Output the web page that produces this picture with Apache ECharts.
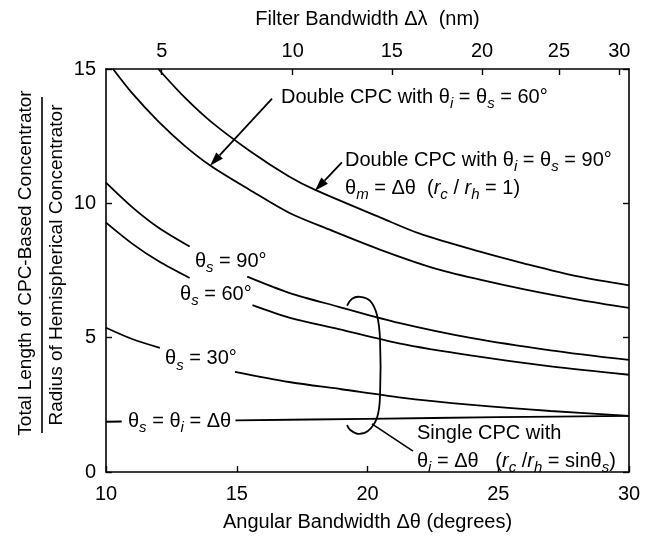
<!DOCTYPE html>
<html>
<head>
<meta charset="utf-8">
<script src="https://cdn.jsdelivr.net/npm/echarts@6/dist/echarts.min.js"></script>
<style>
  html, body { margin: 0; background: #fff; }
  #chart { width: 651px; height: 536px; }
</style>
</head>
<body>
<div id="chart"></div>
<script>
// curves: [angular bandwidth (deg), length ratio]
// a null value marks where the printed curve is broken for its label
const double90 = [[12.0, 15.0], [13, 13.95], [14, 13.05], [15.5, 11.95], [17, 11.0], [18, 10.5], [20.5, 9.47], [22, 8.87], [24.3, 8.2], [26, 7.76], [28.1, 7.27], [30, 6.95]];
const double60 = [[10.27, 15.0], [11, 14.1], [12, 13.05], [13, 12.15], [14, 11.4], [15.5, 10.5], [17, 9.65], [18.6, 9.0], [20.5, 8.27], [22.5, 7.6], [24.3, 7.16], [26, 6.8], [28.1, 6.41], [30, 6.11]];
const single90 = [[10, 10.77], [11, 9.86], [12, 9.1], [13.2, 8.39], [14.3, null], [15.4, 7.27], [17, 6.67], [18.9, 6.15], [21.2, 5.55], [24, 4.98], [27, 4.53], [30, 4.17]];
const single60 = [[10, 9.28], [11, 8.5], [12, 7.85], [13.2, 7.22], [14.4, null], [15.6, 6.21], [17, 5.75], [18.9, 5.32], [21.2, 4.79], [24, 4.33], [27, 3.93], [30, 3.62]];
const single30 = [[10, 5.37], [11, 4.95], [12.06, 4.62], [13.5, null], [14.93, 3.73], [17, 3.35], [19, 3.08], [21.2, 2.78], [24, 2.5], [27, 2.27], [30, 2.09]];
const singleEqual = [[10, 1.87], [10.6, 1.88], [12.8, null], [14.95, 1.92], [20, 1.98], [25, 2.04], [30, 2.09]];

// top axis: filter bandwidth ticks and where they sit on the angle scale
const topTickDeg = [12.13, 17.14, 20.93, 24.38, 27.32, 29.63];
const topTickNm = ['5', '10', '15', '20', '25', '30'];

const FONT = '"Liberation Sans", Arial, Helvetica, sans-serif';

const chartDom = document.getElementById('chart');
const myChart = echarts.init(chartDom);

const axisText = { color: '#000', fontSize: 20, fontFamily: FONT };
const frameLine = { show: true, onZero: false, lineStyle: { color: '#000', width: 1.6 } };
const tickStyle = { color: '#000', width: 1.4 };

const curve = (name, data) => ({
  name,
  type: 'line',
  data,
  smooth: 0.3,
  connectNulls: false,
  symbol: 'none',
  silent: true,
  lineStyle: { color: '#000', width: 1.8 },
  z: 2,
});

const option = {
  backgroundColor: '#fff',
  animation: false,
  grid: { left: 106, right: 22, top: 69, bottom: 64, containLabel: false, outerBoundsMode: 'none' },
  xAxis: [
    {
      type: 'value',
      position: 'bottom',
      min: 10,
      max: 30,
      interval: 5,
      axisLine: frameLine,
      axisTick: { show: true, inside: true, length: 6, lineStyle: tickStyle },
      axisLabel: { ...axisText, margin: 12 },
      splitLine: { show: false },
      name: 'Angular Bandwidth Δθ (degrees)',
      nameLocation: 'middle',
      nameGap: 40,
      nameTextStyle: axisText,
    },
    {
      type: 'value',
      position: 'top',
      min: 10,
      max: 30,
      axisLine: frameLine,
      axisTick: { show: true, inside: true, length: 6, lineStyle: tickStyle, customValues: topTickDeg },
      axisLabel: {
        ...axisText,
        margin: 8,
        customValues: topTickDeg,
        formatter: (v) => {
          let best = 0;
          topTickDeg.forEach((d, i) => { if (Math.abs(d - v) < Math.abs(topTickDeg[best] - v)) best = i; });
          return topTickNm[best];
        },
      },
      splitLine: { show: false },
      name: 'Filter Bandwidth Δλ  (nm)',
      nameLocation: 'middle',
      nameGap: 40,
      nameTextStyle: axisText,
    },
  ],
  yAxis: [
    {
      type: 'value',
      position: 'left',
      min: 0,
      max: 15,
      interval: 5,
      axisLine: frameLine,
      axisTick: { show: true, inside: true, length: 6, lineStyle: tickStyle },
      axisLabel: { ...axisText, margin: 10 },
      splitLine: { show: false },
    },
    {
      type: 'value',
      position: 'right',
      min: 0,
      max: 15,
      interval: 5,
      axisLine: frameLine,
      axisTick: { show: true, inside: true, length: 6, lineStyle: tickStyle },
      axisLabel: { show: false },
      splitLine: { show: false },
    },
  ],
  series: [
    curve('Double CPC 90', double90),
    curve('Double CPC 60', double60),
    curve('θs = 90', single90),
    curve('θs = 60', single60),
    curve('θs = 30', single30),
    curve('θs = θi', singleEqual),
  ],
};

myChart.setOption(option);

// annotations
const px = (x, y) => myChart.convertToPixel({ xAxisIndex: 0, yAxisIndex: 0 }, [x, y]);

const rich = {
  b: { fontSize: 20, fontFamily: FONT, lineHeight: 24, verticalAlign: 'top', fill: '#000' },
  it: { fontSize: 20, fontFamily: FONT, fontStyle: 'italic', lineHeight: 24, verticalAlign: 'top', fill: '#000' },
  sub: { fontSize: 15, fontFamily: FONT, fontStyle: 'italic', lineHeight: 15, verticalAlign: 'bottom', fill: '#000' },
};

function label(text, x, y) {
  const [lx, ly] = px(x, y);
  return {
    type: 'text',
    x: lx,
    y: ly - 11,
    z: 10,
    style: { text, rich, fontSize: 20, fontFamily: FONT, fill: '#000', align: 'left', verticalAlign: 'top' },
  };
}

function arrow(from, to) {
  const [x0, y0] = px(from[0], from[1]);
  const [x1, y1] = px(to[0], to[1]);
  const ang = Math.atan2(y1 - y0, x1 - x0);
  const len = 14;
  const half = 4.5;
  const bx = x1 - len * Math.cos(ang);
  const by = y1 - len * Math.sin(ang);
  const nx = -Math.sin(ang) * half;
  const ny = Math.cos(ang) * half;
  return [
    { type: 'line', z: 10, shape: { x1: x0, y1: y0, x2: bx, y2: by }, style: { stroke: '#000', lineWidth: 1.8 } },
    { type: 'polygon', z: 10, shape: { points: [[x1, y1], [bx + nx, by + ny], [bx - nx, by - ny]] }, style: { fill: '#000' } },
  ];
}

const bracket = [[19.22, 6.19], [19.41, 6.45], [19.71, 6.52], [20.1, 6.37], [20.36, 5.85], [20.48, 4.92],
  [20.48, 2.87], [20.36, 2.01], [20.02, 1.53], [19.64, 1.42], [19.33, 1.57], [19.22, 1.75]];
const [c0x, c0y] = px(20.17, 1.79);
const [c1x, c1y] = px(21.74, 0.78);

const graphic = [
  label('{b|Double CPC with θ}{sub|i}{b| = θ}{sub|s}{b| = 60°}', 16.69, 13.9),
  ...arrow([16.35, 13.9], [13.98, 11.4]),
  label('{b|Double CPC with θ}{sub|i}{b| = θ}{sub|s}{b| = 90°}', 19.14, 11.55),
  label('{b|θ}{sub|m}{b| = Δθ  (}{it|r}{sub|c}{b| / }{it|r}{sub|h}{b| = 1)}', 19.14, 10.51),
  ...arrow([19.02, 11.52], [17.99, 10.47]),
  label('{b|θ}{sub|s}{b| = 90°}', 13.4, 7.79),
  label('{b|θ}{sub|s}{b| = 60°}', 12.83, 6.56),
  label('{b|θ}{sub|s}{b| = 30°}', 12.26, 4.17),
  label('{b|θ}{sub|s}{b| = θ}{sub|i}{b| = Δθ}', 10.84, 1.86),
  label('{b|Single CPC with}', 21.89, 1.4),
  label('{b|θ}{sub|i}{b| = Δθ   (}{it|r}{sub|c}{b| /}{it|r}{sub|h}{b| = sinθ}{sub|s}{b|)}', 21.89, 0.37),
  {
    type: 'polyline',
    z: 10,
    shape: { points: bracket.map((p) => px(p[0], p[1])), smooth: 0.4 },
    style: { stroke: '#000', lineWidth: 1.8, fill: null },
  },
  { type: 'line', z: 10, shape: { x1: c0x, y1: c0y, x2: c1x, y2: c1y }, style: { stroke: '#000', lineWidth: 1.6 } },
  // y axis title drawn as a fraction
  {
    type: 'text',
    x: 26,
    y: 263,
    rotation: Math.PI / 2,
    style: { text: 'Total Length of CPC-Based Concentrator', fontSize: 19, fontFamily: FONT, fill: '#000', align: 'center', verticalAlign: 'middle' },
  },
  { type: 'line', shape: { x1: 42, y1: 97, x2: 42, y2: 433 }, style: { stroke: '#000', lineWidth: 1.6 } },
  {
    type: 'text',
    x: 57,
    y: 265,
    rotation: Math.PI / 2,
    style: { text: 'Radius of Hemispherical Concentrator', fontSize: 19, fontFamily: FONT, fill: '#000', align: 'center', verticalAlign: 'middle' },
  },
];

myChart.setOption({ graphic });

window.addEventListener('resize', function () {
  myChart.resize();
});
</script>
</body>
</html>
